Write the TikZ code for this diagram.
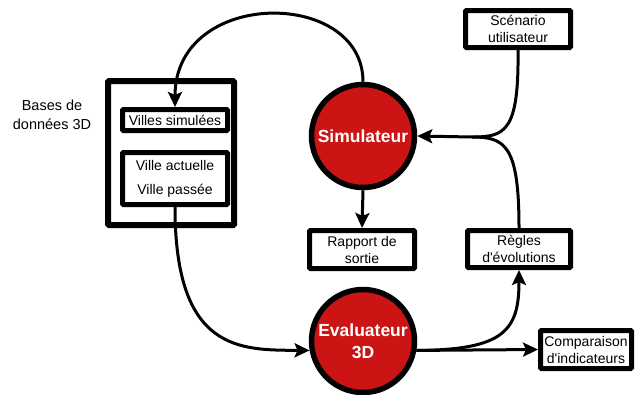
\documentclass[tikz,border=0pt]{standalone}
\usepackage{fontspec}
\setmainfont{Liberation Sans}[Ligatures=TeXOff]
\usetikzlibrary{arrows.meta}

\definecolor{simred}{RGB}{204,20,20}

\tikzset{
	box/.style={draw, line width=5pt, rounded corners=1pt, align=center, inner sep=0pt,
		font=\fontsize{14}{17}\selectfont},
	proc/.style={circle, draw, line width=5.5pt, fill=simred, text=white, align=center,
		minimum size=103pt, inner sep=0pt, font=\bfseries\fontsize{17.5}{22}\selectfont},
	conn/.style={line width=3pt, -{Stealth[length=15pt, width=14pt, inset=3pt]}},
	link/.style={line width=3pt}
}

\begin{document}
\begin{tikzpicture}[x=1pt, y=-1pt]
				\useasboundingbox (0,0) rectangle (639,394);

				\node [box, minimum width=126pt, minimum height=144pt, line width=6pt] (bases) at (171,153) {};
				\node [box, minimum width=105pt, minimum height=21pt] (villes) at (175,120) {Villes simulées};
				\node [box, minimum width=105pt, minimum height=52pt, font=\fontsize{14}{24}\selectfont] (ville) at (175,178.5) {Ville actuelle\\Ville passée};
				\node [align=center, font=\fontsize{14.5}{18.5}\selectfont] (label) at (52,115) {Bases de\\données 3D};

				\node [proc] (sim) at (363,136) {Simulateur};
				\node [proc] (eval) at (363,341) {Evaluateur\\3D};

				\node [box, minimum width=105pt, minimum height=37pt] (scen) at (518,29) {Scénario\\utilisateur};
				\node [box, minimum width=105pt, minimum height=38pt] (rapport) at (362,249.5) {Rapport de\\sortie};
				\node [box, minimum width=103pt, minimum height=37pt] (regles) at (519,249) {Règles\\d'évolutions};
				\node [box, minimum width=91pt, minimum height=38pt] (comp) at (586,349.5) {Comparaison\\d'indicateurs};

				\coordinate (join) at (472,137);

				% simulateur vers les bases
				\draw [conn] (sim.north) .. controls (363,-12) and (175,-12) .. (villes.north);
				\draw [conn] (ville.south) .. controls (175,352) and (240,350) .. (eval.190);
				\draw [conn] (sim.south) -- (rapport.north);

				% sorties de l'evaluateur
				\draw [conn] (eval.350) -- (comp.west);
				\draw [conn] (eval.350) .. controls (505,350) and (519,330) .. (regles.south);

				% entrees du simulateur
				\draw [conn] (scen.south) .. controls (519,132) and (505,137) .. (join) -- (sim.east);
				\draw [link] (regles.north) .. controls (519,145) and (505,137) .. (join);
			\end{tikzpicture}
\end{document}
